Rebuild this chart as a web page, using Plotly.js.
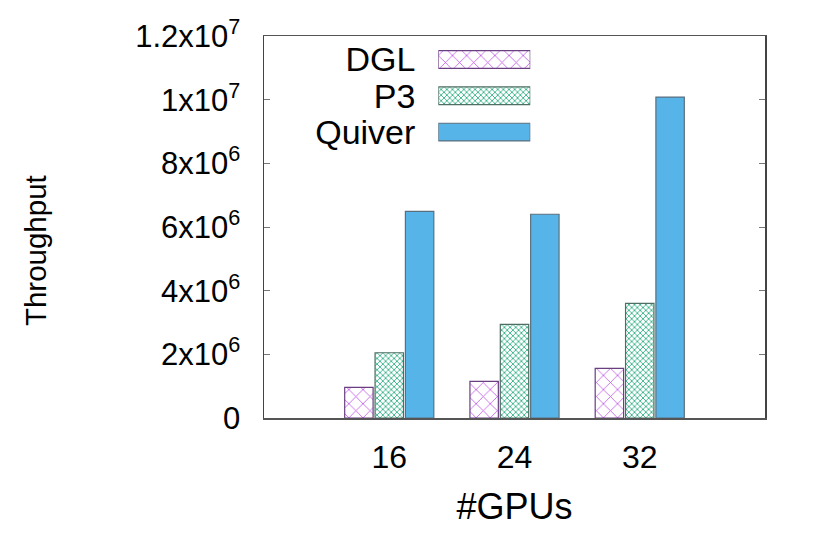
<!DOCTYPE html>
<html>
<head>
<meta charset="utf-8">
<script src="https://cdn.plot.ly/plotly-3.0.1.min.js"></script>
<style>html,body{margin:0;padding:0;background:#fff;}#chart{width:830px;height:534px;}</style>
</head>
<body>
<div id="chart"></div>
<script>
const categories = ['16', '24', '32'];
const seriesNames = ['DGL', 'P3', 'Quiver'];
const dgl = [0.96e6, 1.15e6, 1.56e6];
const p3 = [2.05e6, 2.94e6, 3.60e6];
const quiver = [6.49e6, 6.40e6, 10.08e6];
const yTickVals = [0, 2e6, 4e6, 6e6, 8e6, 1e7, 1.2e7];
const yTickText = ['0', '2x10<sup>6</sup>', '4x10<sup>6</sup>', '6x10<sup>6</sup>', '8x10<sup>6</sup>', '1x10<sup>7</sup>', '1.2x10<sup>7</sup>'];

const FONT = 'Liberation Sans, Arial, Helvetica, sans-serif';
const styles = [
  {color: '#ffffff', line: {color: '#6a3f80', width: 1.2}, pattern: {shape: 'x', fgcolor: '#c05ce6', bgcolor: '#ffffff', size: 10, solidity: 0.16}},
  {color: '#ffffff', line: {color: '#4f6e63', width: 1.2}, pattern: {shape: 'x', fgcolor: '#38b08a', bgcolor: '#ffffff', size: 4, solidity: 0.4}},
  {color: '#56b4e9', line: {color: '#5a6f7e', width: 1.2}}
];
const values = [dgl, p3, quiver];

const traces = [];
seriesNames.forEach((name, i) => {
  traces.push({
    type: 'bar', name: name, x: categories, y: values[i],
    marker: styles[i], showlegend: false, hoverinfo: 'x+y+name'
  });
});
// legend keys drawn as bars in an inset axis
seriesNames.forEach((name, i) => {
  traces.push({
    type: 'bar', orientation: 'h', name: name, y: [name], x: [1],
    xaxis: 'x2', yaxis: 'y2', width: 0.486, offset: -0.243,
    marker: styles[i], showlegend: false, hoverinfo: 'skip'
  });
});

const layout = {
  width: 830, height: 534,
  margin: {l: 264, r: 65, t: 36, b: 116},
  paper_bgcolor: '#ffffff', plot_bgcolor: '#ffffff',
  font: {family: FONT, size: 31, color: '#000'},
  barmode: 'group', bargap: 0.273, bargroupgap: 0.064,
  xaxis: {
    type: 'category', range: [-1, 3], showgrid: false, zeroline: false,
    showline: true, mirror: true, linecolor: '#555', linewidth: 1.5,
    ticks: '', tickfont: {size: 32, family: FONT}, ticklabelstandoff: 10,
    title: {text: '#GPUs', font: {size: 36, family: FONT}, standoff: 20}
  },
  yaxis: {
    range: [0, 1.2e7], showgrid: false, zeroline: false,
    showline: true, mirror: 'ticks', linecolor: '#444', linewidth: 1.5,
    ticks: 'inside', ticklen: 6, tickcolor: '#777', tickwidth: 1,
    tickvals: yTickVals, ticktext: yTickText,
    tickfont: {size: 31, family: FONT}, ticklabelstandoff: 16
  },
  xaxis2: {domain: [0.348, 0.5315], range: [0, 1], anchor: 'y2', visible: false, fixedrange: true},
  yaxis2: {
    domain: [0.701, 0.986], anchor: 'x2', type: 'category',
    categoryorder: 'array', categoryarray: seriesNames, autorange: 'reversed',
    tickmode: 'array', tickvals: seriesNames, ticktext: seriesNames,
    showline: false, showgrid: false, zeroline: false, ticks: '',
    tickfont: {size: 34, family: FONT}, ticklabelstandoff: 22
  },
  annotations: [{
    text: 'Throughput', xref: 'paper', yref: 'paper', x: -0.457, y: 0.437,
    xanchor: 'center', yanchor: 'middle', textangle: -90, showarrow: false,
    font: {size: 29.5, family: FONT}
  }]
};

Plotly.newPlot('chart', traces, layout, {displayModeBar: false, staticPlot: true});
</script>
</body>
</html>
